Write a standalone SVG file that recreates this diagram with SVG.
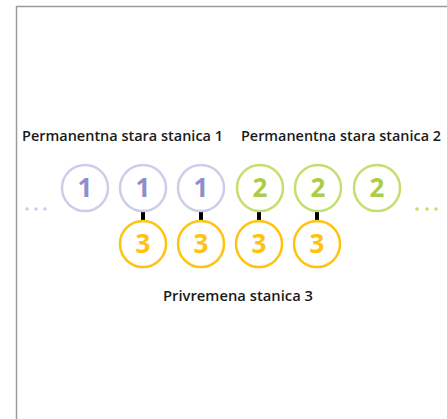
<svg xmlns="http://www.w3.org/2000/svg" width="447" height="419" viewBox="0 0 447 419">
<style>
.lbl{font-family:"Open Sans","Liberation Sans",sans-serif;font-weight:600;font-size:14px;fill:#1a1a1a}
.num{font-family:"Open Sans","Liberation Sans",sans-serif;font-weight:700;font-size:26px;text-anchor:middle}
.c1{fill:#fff;stroke:#cdcdea;stroke-width:2.5}
.c2{fill:#fff;stroke:#c3df6e;stroke-width:2.5}
.c3{fill:#fff;stroke:#ffc20e;stroke-width:2.5}
.n1{fill:#8e8ecb}
.n2{fill:#aacd45}
.n3{fill:#ffc20e}
.link{stroke:#000;stroke-width:4}
</style>
<rect width="447" height="419" fill="#fff"/>
<path d="M16.5 419 V6.5 H447" fill="none" stroke="#9a9a9a" stroke-width="1.5"/>
<text class="lbl" x="22" y="141" textLength="201" lengthAdjust="spacingAndGlyphs">Permanentna stara stanica 1</text>
<text class="lbl" x="241" y="141" textLength="200" lengthAdjust="spacingAndGlyphs">Permanentna stara stanica 2</text>
<text class="lbl" x="163" y="301" textLength="150" lengthAdjust="spacingAndGlyphs">Privremena stanica 3</text>
<g id="connectors">
<line class="link" x1="143" y1="211" x2="143" y2="222"/>
<line class="link" x1="201" y1="211" x2="201" y2="222"/>
<line class="link" x1="259" y1="211" x2="259" y2="222"/>
<line class="link" x1="317" y1="211" x2="317" y2="222"/>
</g>
<g id="dots-left" fill="#cdcdea"><circle cx="27" cy="209" r="1.8"/><circle cx="36" cy="209" r="1.8"/><circle cx="45" cy="209" r="1.8"/></g>
<g id="dots-right" fill="#c3df6e"><circle cx="417" cy="209" r="1.8"/><circle cx="427" cy="209" r="1.8"/><circle cx="436" cy="209" r="1.8"/></g>
<g id="p1a"><circle class="c1" cx="85" cy="188" r="23"/><text class="num n1" x="85" y="197">1</text></g>
<g id="p1b"><circle class="c1" cx="143" cy="188" r="23"/><text class="num n1" x="143" y="197">1</text></g>
<g id="p1c"><circle class="c1" cx="201" cy="188" r="23"/><text class="num n1" x="201" y="197">1</text></g>
<g id="p2a"><circle class="c2" cx="260" cy="188" r="23"/><text class="num n2" x="260" y="197">2</text></g>
<g id="p2b"><circle class="c2" cx="318" cy="188" r="23"/><text class="num n2" x="318" y="197">2</text></g>
<g id="p2c"><circle class="c2" cx="377" cy="188" r="23"/><text class="num n2" x="377" y="197">2</text></g>
<g id="t3a"><circle class="c3" cx="143" cy="244" r="23"/><text class="num n3" x="143" y="253">3</text></g>
<g id="t3b"><circle class="c3" cx="201" cy="244" r="23"/><text class="num n3" x="201" y="253">3</text></g>
<g id="t3c"><circle class="c3" cx="259" cy="244" r="23"/><text class="num n3" x="259" y="253">3</text></g>
<g id="t3d"><circle class="c3" cx="317" cy="244" r="23"/><text class="num n3" x="317" y="253">3</text></g>
</svg>
